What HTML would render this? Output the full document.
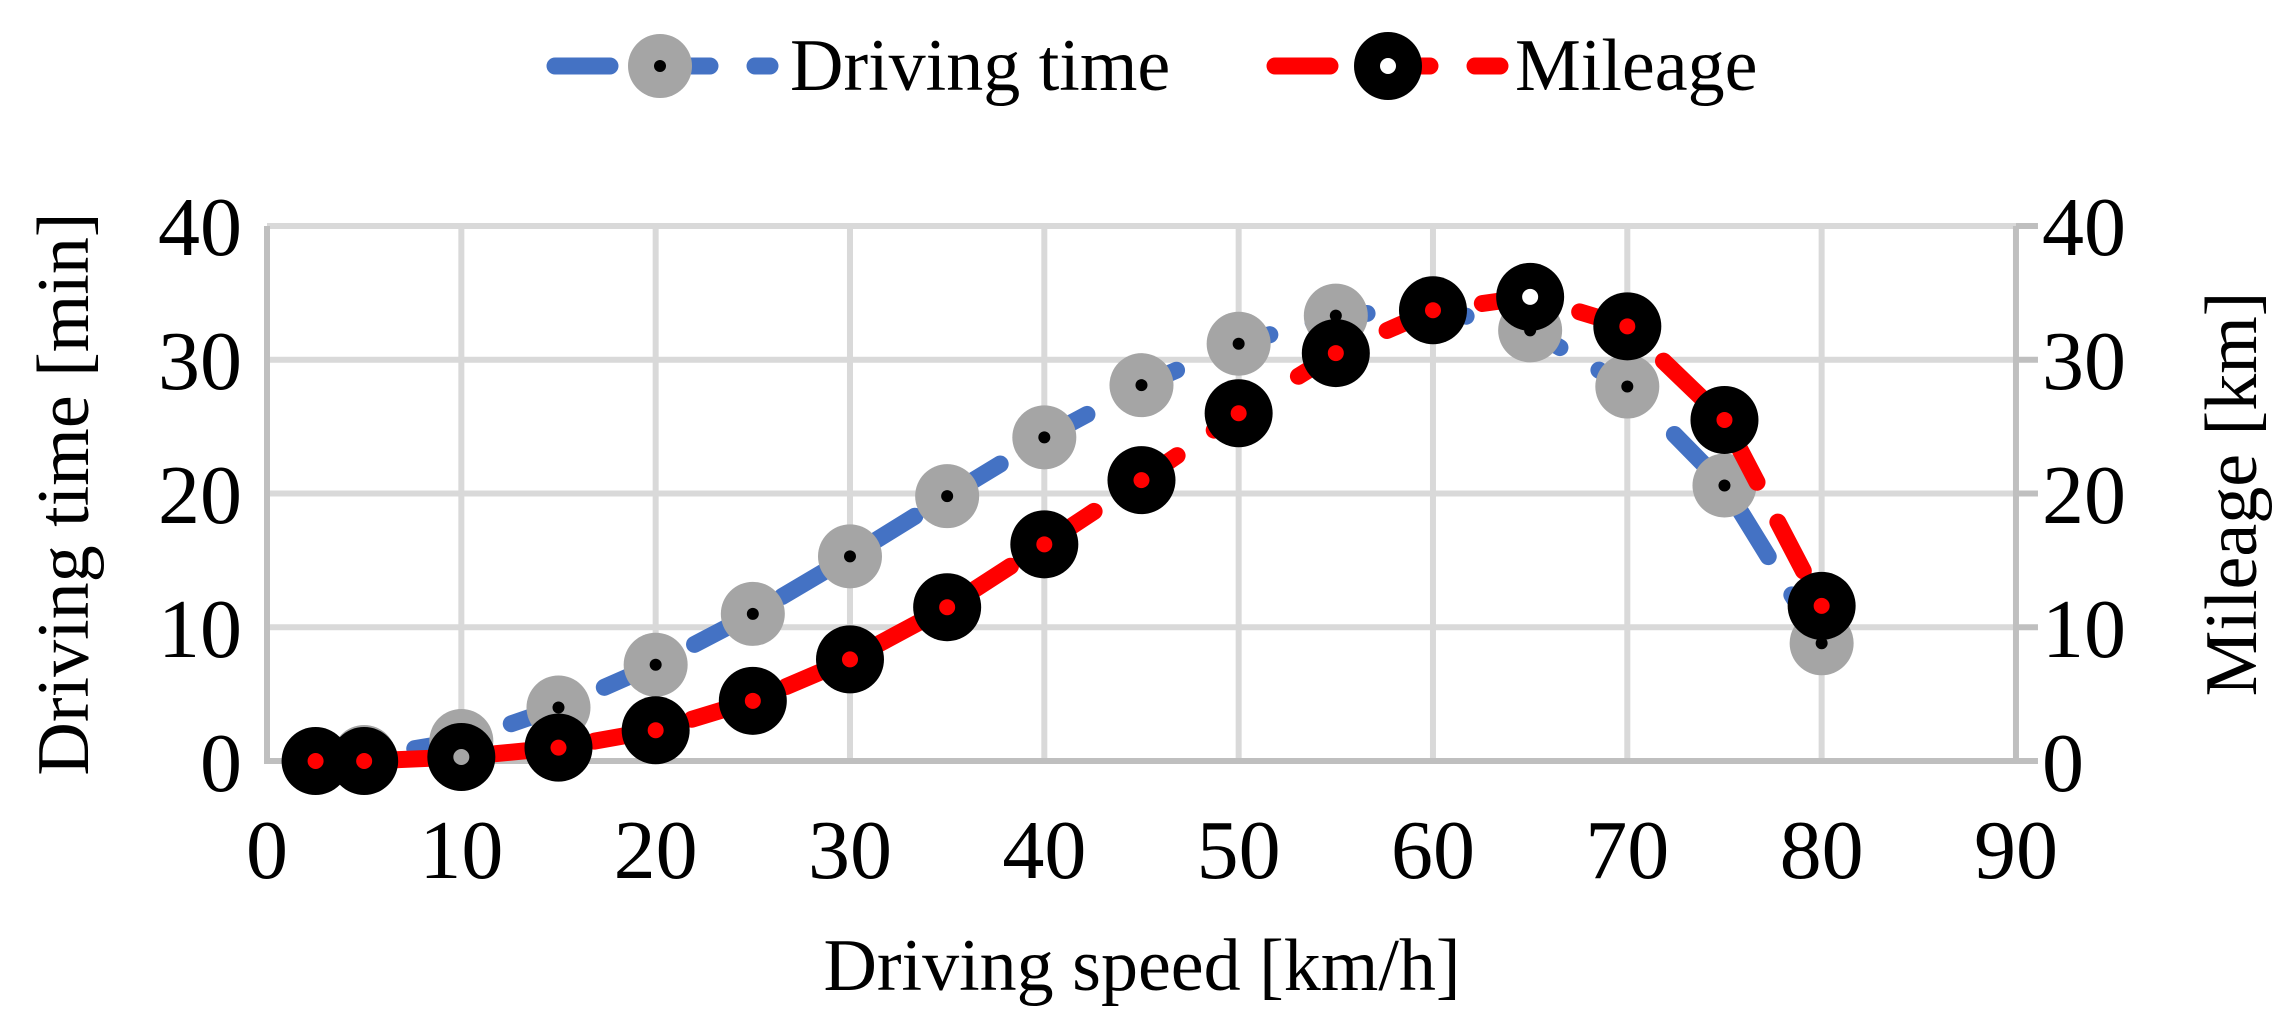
<!DOCTYPE html>
<html><head><meta charset="utf-8"><style>
html,body{margin:0;padding:0;background:#fff}
svg{display:block}
text{font-family:"Liberation Serif",serif;fill:#000}
</style></head><body>
<svg id="s" width="2289" height="1030" viewBox="0 0 2289 1030" xmlns="http://www.w3.org/2000/svg">
<g id="grid" stroke="#d9d9d9" stroke-width="6"></g>
<g id="axes" stroke="#bfbfbf" stroke-width="6"></g>
<g font-size="84">
<text x="242" y="255" text-anchor="end">40</text>
<text x="242" y="389" text-anchor="end">30</text>
<text x="242" y="523" text-anchor="end">20</text>
<text x="242" y="657" text-anchor="end">10</text>
<text x="242" y="791" text-anchor="end">0</text>
<text x="2042" y="255">40</text>
<text x="2042" y="389">30</text>
<text x="2042" y="523">20</text>
<text x="2042" y="657">10</text>
<text x="2042" y="791">0</text>
</g>
<g id="xt" font-size="84" text-anchor="middle"></g>
<text x="1142" y="990" font-size="74" text-anchor="middle">Driving speed [km/h]</text>
<text transform="translate(88,494) rotate(-90)" font-size="74" text-anchor="middle">Driving time [min]</text>
<text transform="translate(2256,494) rotate(-90)" font-size="74" text-anchor="middle">Mileage [km]</text>
<g id="series"></g>
<g id="legend">
<line x1="555" y1="66" x2="770" y2="66" stroke="#4472c4" stroke-width="17" stroke-linecap="round" stroke-dasharray="55 45"/>
<circle cx="660" cy="66" r="32" fill="#a5a5a5"/><circle cx="660" cy="66" r="6" fill="#000"/>
<text x="790" y="90" font-size="74">Driving time</text>
<line x1="1275" y1="66" x2="1500" y2="66" stroke="#ff0000" stroke-width="17" stroke-linecap="round" stroke-dasharray="55 45"/>
<circle cx="1388" cy="66" r="34" fill="#000"/><circle cx="1388" cy="66" r="8" fill="#fff"/>
<text x="1515" y="90" font-size="74">Mileage</text>
</g>
</svg>
<script>
var NS="http://www.w3.org/2000/svg";
function X(v){return 267+v*19.433;}
function Y(v){return 761-v*13.375;}
function el(p,t,a){var e=document.createElementNS(NS,t);for(var k in a)e.setAttribute(k,a[k]);p.appendChild(e);return e;}
var g=document.getElementById('grid'),ax=document.getElementById('axes'),xt=document.getElementById('xt'),s=document.getElementById('series');
for(var i=1;i<=8;i++)el(g,'line',{x1:X(i*10),y1:Y(40),x2:X(i*10),y2:Y(0)});
for(var j=1;j<=4;j++)el(g,'line',{x1:X(0),y1:Y(j*10),x2:X(90),y2:Y(j*10)});
el(ax,'line',{x1:X(0),y1:Y(40),x2:X(0),y2:Y(0)+3});
el(ax,'line',{x1:X(0),y1:Y(0),x2:X(90)+20,y2:Y(0)});
el(ax,'line',{x1:X(90),y1:Y(40),x2:X(90),y2:Y(0)});
for(var j=0;j<=4;j++)el(ax,'line',{x1:X(90),y1:Y(j*10),x2:X(90)+22,y2:Y(j*10)});
for(var i=0;i<=9;i++){var t=el(xt,'text',{x:X(i*10),y:878});t.textContent=String(i*10);}
var xs=[2.5,5,10,15,20,25,30,35,40,45,50,55,60,65,70,75,80];
var dt=[0,0.3,1.5,4,7.2,11,15.3,19.8,24.2,28.1,31.2,33.3,33.8,32.2,28,20.6,8.8];
var ml=[0,0,0.3,1,2.3,4.5,7.6,11.5,16.2,21,26,30.5,33.7,34.7,32.5,25.5,11.6];
function path(d){var p='';for(var i=0;i<xs.length;i++)p+=(i?'L':'M')+X(xs[i]).toFixed(1)+' '+Y(d[i]).toFixed(1);return p;}
el(s,'path',{d:path(dt),fill:'none',stroke:'#4472c4','stroke-width':17,'stroke-linecap':'round','stroke-dasharray':'55 45'});
for(var i=0;i<xs.length;i++){el(s,'circle',{cx:X(xs[i]),cy:Y(dt[i]),r:32,fill:'#a5a5a5'});el(s,'circle',{cx:X(xs[i]),cy:Y(dt[i]),r:6,fill:'#000'});}
el(s,'path',{d:path(ml),fill:'none',stroke:'#ff0000','stroke-width':17,'stroke-linecap':'round','stroke-dasharray':'55 45','stroke-dashoffset':'20'});
for(var i=0;i<xs.length;i++){var c=(i==2)?'#a5a5a5':(i==13?'#fff':'#ff0000');el(s,'circle',{cx:X(xs[i]),cy:Y(ml[i]),r:34,fill:'#000'});el(s,'circle',{cx:X(xs[i]),cy:Y(ml[i]),r:8,fill:c});}
</script>
</body></html>
